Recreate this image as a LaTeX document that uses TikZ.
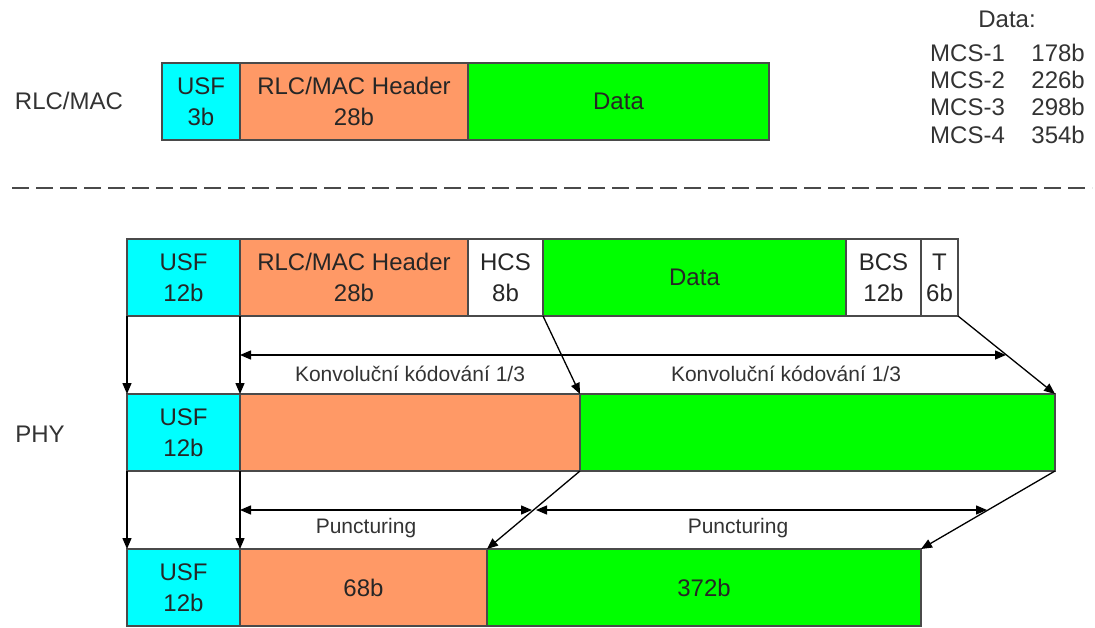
\documentclass[tikz,border=0pt]{standalone}
\usepackage{fontspec}
\setmainfont{Liberation Sans}
\usetikzlibrary{arrows.meta}
\definecolor{cy}{HTML}{00FFFF}
\definecolor{org}{HTML}{FF9966}
\definecolor{grn}{HTML}{00FF00}
\definecolor{bord}{HTML}{4A4A4A}
\tikzset{
  cell/.style={draw=bord, line width=1.3pt, anchor=north west, inner sep=0pt, outer sep=0pt,
    align=center, minimum height=77pt, font=\fontsize{24}{31}\selectfont, text=black!85},
  big/.style={font=\fontsize{24}{28}\selectfont, text=black!80, inner sep=0pt},
  small/.style={font=\fontsize{21}{25}\selectfont, text=black!80, inner sep=0pt},
  arr/.style={line width=1.3pt, -{Triangle[length=11pt,width=9pt]}},
  darr/.style={line width=1.3pt, {Triangle[length=11pt,width=9pt]}-{Triangle[length=11pt,width=9pt]}},
}
\begin{document}
\begin{tikzpicture}[x=1pt,y=-1pt]
\useasboundingbox (0,0) rectangle (1095,628);
% row 1
\node[cell, fill=cy,  minimum width=78pt]  (u1) at (162,63) {USF\\3b};
\node[cell, fill=org, minimum width=228pt] (h1) at (240,63) {RLC/MAC Header\\28b};
\node[cell, fill=grn, minimum width=301pt] (d1) at (468,63) {Data};
\node[big] (lrlc) at (69,101) {RLC/MAC};
% data list
\node[big] (dt) at (1007,19) {Data:};
\node[big, anchor=west] (m1) at (930,53) {MCS-1};
\node[big, anchor=west] (m2) at (930,80) {MCS-2};
\node[big, anchor=west] (m3) at (930,107) {MCS-3};
\node[big, anchor=west] (m4) at (930,135) {MCS-4};
\node[big, anchor=east] (n1) at (1085,53) {178b};
\node[big, anchor=east] (n2) at (1085,80) {226b};
\node[big, anchor=east] (n3) at (1085,107) {298b};
\node[big, anchor=east] (n4) at (1085,135) {354b};
% dashed separator
\coordinate (dl) at (12,188);
\coordinate (dr) at (1092,188);
\draw[bord, line width=2pt, dash pattern=on 17pt off 7pt] (dl) -- (dr);
% row 2
\node[cell, fill=cy,  minimum width=113pt] (u2) at (127,239) {USF\\12b};
\node[cell, fill=org, minimum width=228pt] (h2) at (240,239) {RLC/MAC Header\\28b};
\node[cell, fill=white, minimum width=75pt] (hcs) at (468,239) {HCS\\8b};
\node[cell, fill=grn, minimum width=303pt] (d2) at (543,239) {Data};
\node[cell, fill=white, minimum width=75pt] (bcs) at (846,239) {BCS\\12b};
\node[cell, fill=white, minimum width=37pt] (t) at (921,239) {T\\6b};
% row 3
\node[cell, fill=cy,  minimum width=113pt] (u3) at (127,394) {USF\\12b};
\node[cell, fill=org, minimum width=340pt] (o3) at (240,394) {};
\node[cell, fill=grn, minimum width=475pt] (g3) at (580,394) {};
\node[big] (lphy) at (40,434) {PHY};
% row 4
\node[cell, fill=cy,  minimum width=113pt] (u4) at (127,549) {USF\\12b};
\node[cell, fill=org, minimum width=247pt] (o4) at (240,549) {68b};
\node[cell, fill=grn, minimum width=434pt] (g4) at (487,549) {372b};
% arrows row2 -> row3
\draw[arr] (u2.south west) -- (u3.north west);
\draw[arr] (u2.south east) -- (u3.north east);
\draw[arr] (hcs.south east) -- (o3.north east);
\draw[arr] (t.south east) -- (g3.north east);
\coordinate (k1) at (240,355);
\coordinate (k2) at (1006,355);
\draw[darr] (k1) -- (k2);
\node[small] (kl1) at (410,374) {Konvoluční kódování 1/3};
\node[small] (kl2) at (786,374) {Konvoluční kódování 1/3};
% arrows row3 -> row4
\draw[arr] (u3.south west) -- (u4.north west);
\draw[arr] (u3.south east) -- (u4.north east);
\draw[arr] (o3.south east) -- (o4.north east);
\draw[arr] (g3.south east) -- (g4.north east);
\coordinate (p1) at (240,510);
\coordinate (p2) at (532,510);
\coordinate (p3) at (536,510);
\coordinate (p4) at (987,510);
\draw[darr] (p1) -- (p2);
\draw[darr] (p3) -- (p4);
\node[small] (pl1) at (366,528) {Puncturing};
\node[small] (pl2) at (738,528) {Puncturing};
\end{tikzpicture}
\end{document}
